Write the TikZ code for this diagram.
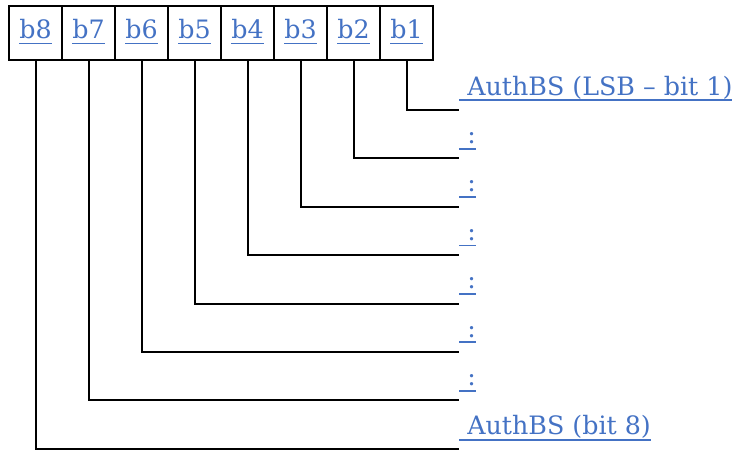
\documentclass[tikz,border=0pt]{standalone}
\usepackage{fontspec}
\setmainfont{DejaVu Serif}
\definecolor{linkblue}{RGB}{68,114,196}
\newcommand{\myul}[1]{\setbox0\hbox{#1}\rlap{\rule[-4.6pt]{\wd0}{1.3pt}}\box0}
\begin{document}
\begin{tikzpicture}[x=0.75pt,y=-0.75pt,
  bitbox/.style={draw,line width=1.5pt,minimum width=53*0.75pt,minimum height=54*0.75pt,
    inner sep=0pt,text height=11pt,text depth=3pt,text=linkblue,font=\fontsize{19}{23}\selectfont},
  desc/.style={anchor=base west,inner sep=0pt,text=linkblue,font=\fontsize{19}{23}\selectfont},
  conn/.style={line width=1.5pt}]
\useasboundingbox (0,0) rectangle (739,450);
\foreach \i [count=\k] in {8,7,6,5,4,3,2,1}{
  \node[bitbox] (b\i) at ({9+53*(\k-1)+26.5},33) {\myul{b\i}};
}
\foreach \i in {1,...,8}{
  \coordinate (e\i) at (459,{110+48.4*(\i-1)});
}
\node[desc] (l1) at (459,{110-15}) {\myul{\ AuthBS (LSB – bit 1)}};
\node[desc] (l2) at (459,{110+48.4*1-15}) {\myul{\ :}};
\node[desc] (l3) at (459,{110+48.4*2-15}) {\myul{\ :}};
\node[desc] (l4) at (459,{110+48.4*3-15}) {\myul{\ :}};
\node[desc] (l5) at (459,{110+48.4*4-15}) {\myul{\ :}};
\node[desc] (l6) at (459,{110+48.4*5-15}) {\myul{\ :}};
\node[desc] (l7) at (459,{110+48.4*6-15}) {\myul{\ :}};
\node[desc] (l8) at (459,{110+48.4*7-14}) {\myul{\ AuthBS (bit 8)}};
\foreach \i in {1,...,8}{
  \draw[conn] (b\i.south) |- (e\i);
}
\end{tikzpicture}
\end{document}
